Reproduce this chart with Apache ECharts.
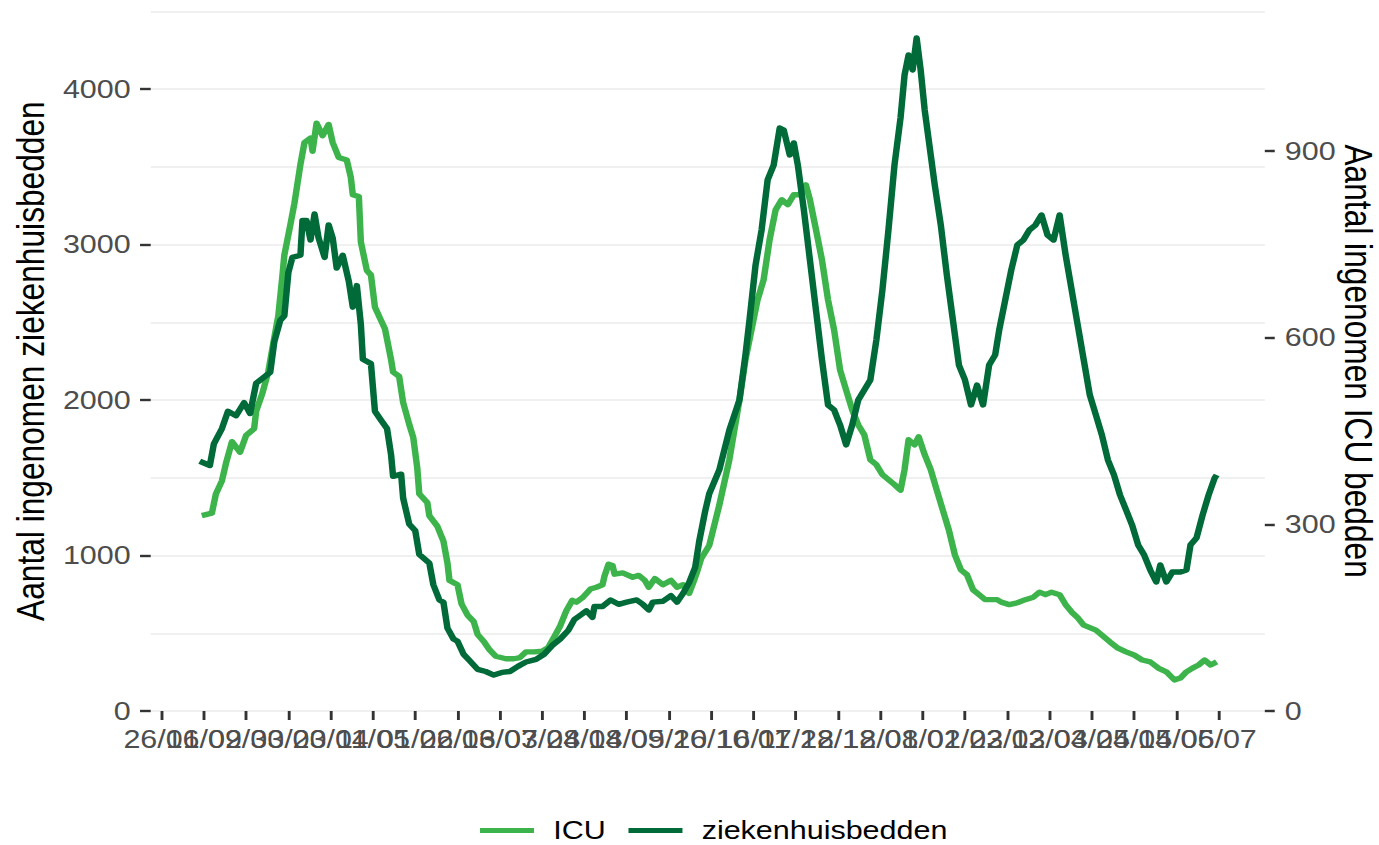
<!DOCTYPE html>
<html><head><meta charset="utf-8">
<script src="https://cdn.jsdelivr.net/npm/echarts@6/dist/echarts.min.js"></script>
<style>
html,body{margin:0;padding:0;background:#fff;overflow:hidden;width:1379px;height:845px}
#c{width:1149.17px;height:845px;transform:scaleX(1.2);transform-origin:0 0}
</style>
</head><body><div id="c"></div><script>
// x = days since 26/01/2021
const tickDays = [0,21,42,63,84,105,126,147,168,189,210,231,252,273,294,315,336,357,378,399,420,441,462,483,504,525];
const tickLabels = ['26/01','16/02','09/03','30/03','20/04','11/05','01/06','22/06','13/07','03/08','24/08','14/09','05/10','26/10','16/11','07/12','28/12','18/01','08/02','01/03','22/03','12/04','03/05','24/05','14/06','05/07'];
const leftTicks = [0,1000,2000,3000,4000];
const rightTicks = [0,300,600,900];

const hospDays = [19,24,26,30,33,37,41,44,47,54,56,59,61,63,65,69,70,72,74,76,78,81,83,85,87,90,93,95,97,99,100,104,106,109,112,114,115,119,120,123,126,128,133,135,138,140,142,145,147,150,153,157,161,165,169,173,177,181,186,190,194,198,202,205,208,211,214,215,219,223,227,231,236,239,242,244,249,253,256,259,262,265,267,270,272,277,282,287,290,292,295,298,301,304,307,309,312,314,316,319,322,325,328,331,334,337,340,343,346,349,352,355,358,361,364,367,369,371,373,375,377,379,381,384,387,390,393,396,399,402,405,408,411,414,416,419,422,425,428,431,434,437,440,443,446,449,452,455,458,461,464,467,470,473,476,479,482,485,488,491,494,496,499,502,506,509,511,514,517,520,523,524];
const hospBeds = [1606,1579,1718,1816,1927,1899,1983,1913,2108,2178,2373,2513,2541,2820,2917,2931,3154,3154,3029,3196,3043,2917,3126,3043,2848,2931,2764,2597,2736,2485,2262,2234,1927,1871,1816,1648,1509,1523,1369,1202,1160,1007,951,812,714,700,533,463,449,365,324,268,254,231,248,254,287,315,332,365,421,463,519,588,616,644,602,672,672,714,686,700,714,686,650,700,706,742,700,756,826,923,1090,1286,1397,1550,1807,2000,2290,2515,2868,3093,3415,3511,3749,3736,3576,3653,3511,3222,2900,2579,2257,1968,1936,1839,1711,1839,2000,2064,2129,2386,2707,3093,3511,3814,4090,4219,4122,4328,4122,3865,3672,3383,3125,2804,2515,2225,2129,1968,2096,1968,2225,2290,2450,2643,2836,2997,3029,3093,3125,3190,3061,3029,3190,2932,2707,2482,2257,2032,1904,1775,1614,1518,1389,1293,1196,1068,1003,907,830,939,830,894,894,907,1068,1113,1260,1389,1498,1518];

const icuDays = [20,25,27,30,32,35,39,42,46,47,50,53,56,58,60,61,64,66,69,71,74,75,77,80,83,85,88,92,94,95,98,99,102,104,106,109,111,114,115,118,120,123,125,127,128,132,133,137,140,142,143,147,149,152,155,157,160,163,166,171,175,178,181,185,189,192,195,198,201,204,206,209,213,216,219,220,222,224,225,229,234,237,240,242,245,249,253,256,259,262,264,266,268,272,277,282,287,290,293,296,299,302,305,308,311,314,317,320,322,325,328,331,334,337,340,343,346,349,352,355,358,361,364,367,369,371,374,376,379,382,385,388,391,394,397,400,403,406,409,412,415,417,421,425,429,433,436,439,442,446,449,452,455,458,461,464,467,471,475,479,483,487,491,495,499,503,506,509,512,515,518,521,524];
const icuBeds = [314,318,349,370,398,433,416,443,454,482,510,545,600,635,698,733,782,816,879,914,921,900,945,925,943,914,890,886,858,830,827,754,708,701,649,628,614,565,545,538,496,461,440,391,349,335,314,297,273,238,210,203,172,154,144,123,112,98,88,84,84,86,95,95,96,102,119,137,161,178,175,182,196,199,203,217,236,234,220,222,215,218,210,199,213,203,210,199,203,189,206,224,245,266,331,404,500,565,613,661,693,758,806,822,814,830,830,846,822,774,725,661,613,548,516,484,460,444,404,396,380,372,364,355,388,436,428,441,412,388,355,323,291,251,227,219,195,187,179,179,179,175,171,174,179,183,191,187,191,187,171,159,150,138,134,130,122,111,101,95,90,82,79,69,63,50,53,63,69,74,82,74,79];

const FONT = "'Liberation Sans', Arial, Helvetica, sans-serif";
const zip = (xs, ys) => xs.map((x, i) => [x, ys[i]]);
// ticks split over two stacked bottom axes so ECharts does not drop overlapping labels
const evenTicks = tickDays.filter((d, i) => i % 2 === 0);
const oddTicks = tickDays.filter((d, i) => i % 2 === 1);
const X_MIN = -5.36, X_MAX = 547.9;

function bottomAxis(vals) {
  return {
    type: 'value', position: 'bottom', min: X_MIN, max: X_MAX, offset: 0,
    axisLine: {show: false, onZero: false},
    splitLine: {show: false},
    axisTick: {show: true, customValues: vals, length: 9, lineStyle: {color: '#333333', width: 2.4}},
    axisLabel: {
      customValues: vals, margin: 16, fontSize: 25.4, color: '#4d4d4d', fontFamily: FONT,
      formatter: v => tickLabels[tickDays.indexOf(v)] || ''
    }
  };
}

const chart = echarts.init(document.getElementById('c'), null, {renderer: 'svg'});
chart.setOption({
  animation: false,
  backgroundColor: '#ffffff',
  textStyle: {fontFamily: FONT},
  grid: {left: 125.6, right: 95, top: 11.25, bottom: 134, containLabel: false, outerBoundsMode: 'none'},
  legend: {
    left: 395, top: 813,
    icon: 'rect', itemWidth: 45, itemHeight: 5, itemGap: 19,
    textStyle: {fontSize: 25.4, color: '#000', fontFamily: FONT, padding: [0, 0, 0, 11]},
    data: ['ICU', 'ziekenhuisbedden']
  },
  xAxis: [bottomAxis(evenTicks), bottomAxis(oddTicks)],
  yAxis: [{
    type: 'value', position: 'left', min: 0, max: 4500, interval: 500,
    axisLine: {show: false, onZero: false},
    axisTick: {show: true, customValues: leftTicks, length: 8.9, lineStyle: {color: '#333333', width: 2.4}},
    axisLabel: {customValues: leftTicks, margin: 16.7, fontSize: 25.4, color: '#4d4d4d', fontFamily: FONT, formatter: v => String(v)},
    splitLine: {show: false},
    name: 'Aantal ingenomen ziekenhuisbedden', nameLocation: 'middle', nameGap: 84, nameMoveOverlap: false,
    nameTextStyle: {fontSize: 31.7, color: '#000', fontFamily: FONT}
  }, {
    type: 'value', position: 'right', min: 0, max: 1125, interval: 300,
    axisLine: {show: false, onZero: false},
    axisTick: {show: true, customValues: rightTicks, length: 8.3, lineStyle: {color: '#333333', width: 2.4}},
    axisLabel: {customValues: rightTicks, margin: 16.7, fontSize: 25.4, color: '#4d4d4d', fontFamily: FONT, formatter: v => String(v)},
    splitLine: {show: false},
    name: 'Aantal ingenomen ICU bedden', nameLocation: 'middle', nameGap: 62, nameRotate: -90, nameMoveOverlap: false,
    nameTextStyle: {fontSize: 31.7, color: '#000', fontFamily: FONT}
  }, {
    // grid lines every 500 beds
    type: 'value', position: 'left', min: 0, max: 4500, interval: 500,
    axisLine: {show: false, onZero: false}, axisTick: {show: false}, axisLabel: {show: false},
    splitLine: {show: true, lineStyle: {color: '#ebebeb', width: 1.7}}
  }],
  series: [{
    name: 'ICU', type: 'line', xAxisIndex: 0, yAxisIndex: 1, showSymbol: false, symbol: 'none',
    data: zip(icuDays, icuBeds),
    lineStyle: {color: '#3cb44b', width: 5.4, join: 'round', cap: 'butt'},
    itemStyle: {color: '#3cb44b'}
  }, {
    name: 'ziekenhuisbedden', type: 'line', xAxisIndex: 0, yAxisIndex: 0, showSymbol: false, symbol: 'none',
    data: zip(hospDays, hospBeds),
    lineStyle: {color: '#006a38', width: 5.4, join: 'round', cap: 'butt'},
    itemStyle: {color: '#006a38'}
  }]
});
</script></body></html>
